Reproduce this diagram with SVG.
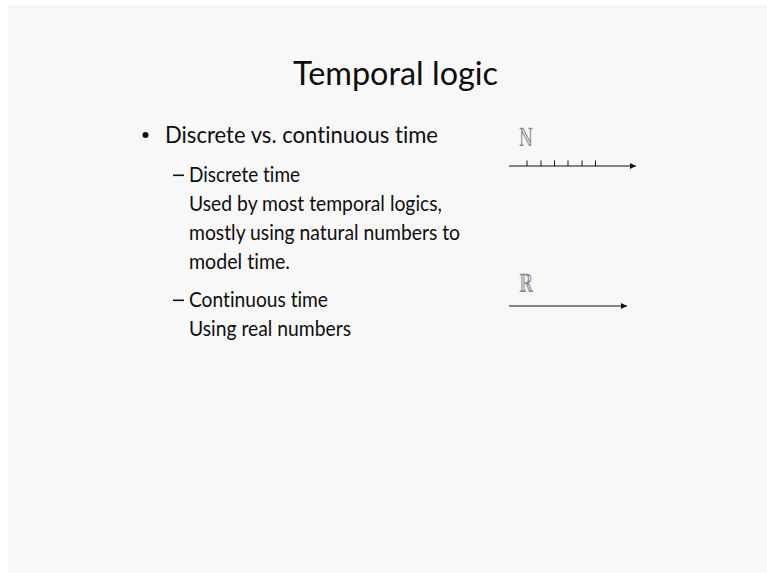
<svg xmlns="http://www.w3.org/2000/svg" width="767" height="575" viewBox="0 0 767 575">
  <defs>
    <style>
      .txt { font-family: Lato, "Open Sans", "Liberation Sans", sans-serif; fill: #0e0e0e; font-variant-ligatures: none; font-feature-settings: "liga" 0; }
      .title { font-size: 33px; }
      .l1 { font-size: 23.5px; }
      .l2 { font-size: 22px; }
      .sym { font-family: "DejaVu Serif", "DejaVu Sans", serif; font-size: 25px; fill: #8a8a8a; }
      .axis { stroke: #111111; stroke-width: 1.2; fill: none; }
      .tick { stroke: #111111; stroke-width: 1; }
    </style>
    <marker id="arrow" viewBox="0 0 10 10" refX="10" refY="5" markerWidth="6" markerHeight="6" markerUnits="userSpaceOnUse" orient="auto">
      <path d="M0,0 L10,5 L0,10 Z" fill="#111111"/>
    </marker>
  </defs>

  <!-- page and slide background -->
  <rect x="0" y="0" width="767" height="575" fill="#ffffff"/>
  <rect x="8" y="5" width="759" height="568" fill="#f8f8f8"/>

  <g id="title">
    <text class="txt title" x="293" y="85" textLength="205" lengthAdjust="spacingAndGlyphs">Temporal logic</text>
  </g>

  <g id="bullets">
    <circle cx="145.5" cy="135" r="3" fill="#111111"/>
    <text class="txt l1" x="165" y="143" textLength="273" lengthAdjust="spacingAndGlyphs">Discrete vs. continuous time</text>

    <rect x="173" y="174.5" width="11" height="1.6" fill="#111111"/>
    <text class="txt l2" x="189" y="182" textLength="111" lengthAdjust="spacingAndGlyphs">Discrete time</text>
    <text class="txt l2" x="189" y="211" textLength="253" lengthAdjust="spacingAndGlyphs">Used by most temporal logics,</text>
    <text class="txt l2" x="189" y="240" textLength="271" lengthAdjust="spacingAndGlyphs">mostly using natural numbers to</text>
    <text class="txt l2" x="189" y="269" textLength="101" lengthAdjust="spacingAndGlyphs">model time.</text>

    <rect x="173" y="299.5" width="11" height="1.6" fill="#111111"/>
    <text class="txt l2" x="189" y="307" textLength="139" lengthAdjust="spacingAndGlyphs">Continuous time</text>
    <text class="txt l2" x="189" y="336" textLength="162" lengthAdjust="spacingAndGlyphs">Using real numbers</text>
  </g>

  <!-- discrete time axis: natural numbers -->
  <g id="discrete-axis">
    <text class="sym" x="519" y="146" textLength="14" lengthAdjust="spacingAndGlyphs">ℕ</text>
    <line class="axis" x1="509" y1="166" x2="636" y2="166" marker-end="url(#arrow)"/>
    <line class="tick" x1="527" y1="160.5" x2="527" y2="166"/>
    <line class="tick" x1="541" y1="160.5" x2="541" y2="166"/>
    <line class="tick" x1="554.5" y1="160.5" x2="554.5" y2="166"/>
    <line class="tick" x1="568" y1="160.5" x2="568" y2="166"/>
    <line class="tick" x1="582" y1="160.5" x2="582" y2="166"/>
    <line class="tick" x1="595.5" y1="160.5" x2="595.5" y2="166"/>
  </g>

  <!-- continuous time axis: real numbers -->
  <g id="continuous-axis">
    <text class="sym" x="519" y="292" textLength="14" lengthAdjust="spacingAndGlyphs">ℝ</text>
    <line class="axis" x1="509" y1="306" x2="627" y2="306" marker-end="url(#arrow)"/>
  </g>
</svg>
